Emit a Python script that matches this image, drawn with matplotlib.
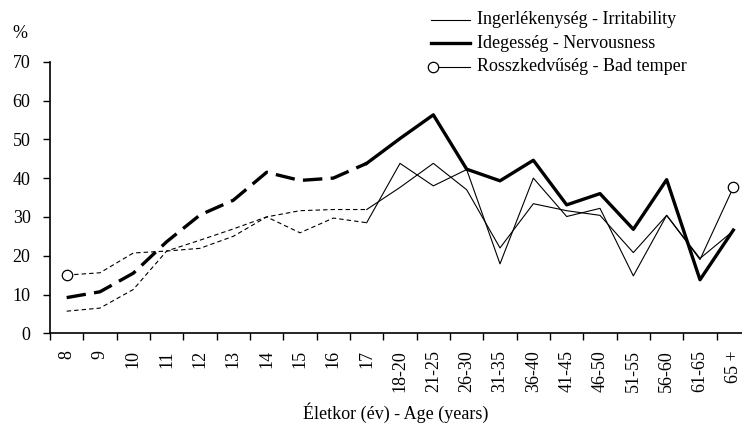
import matplotlib.pyplot as plt
from matplotlib.lines import Line2D

plt.rcParams['font.family'] = ['Liberation Serif', 'DejaVu Serif']
plt.rcParams['lines.scale_dashes'] = False

# Age groups
ages = ["8", "9", "10", "11", "12", "13", "14", "15", "16", "17",
        "18-20", "21-25", "26-30", "31-35", "36-40", "41-45", "46-50",
        "51-55", "56-60", "61-65", "65 +"]

# Values in percent
irritability = [5.7, 6.5, 11.3, 21.2, 24.0, 26.9, 30.0, 25.9, 29.7, 28.5,
                43.8, 38.0, 42.2, 17.9, 40.0, 30.1, 32.2, 14.8, 30.4, 19.3, 26.4]
nervousness = [9.2, 10.7, 15.5, 23.6, 30.5, 34.3, 41.5, 39.4, 40.0, 43.8,
               50.2, 56.3, 42.3, 39.3, 44.6, 33.1, 36.0, 26.8, 39.6, 13.8, 26.6]
bad_temper = [15.0, 15.6, 20.7, 21.2, 21.9, 25.0, 30.0, 31.6, 31.9, 31.9,
              37.6, 43.8, 37.0, 22.0, 33.4, 31.6, 30.4, 20.8, 30.4, 19.0, 37.6]

labels = ["Ingerlékenység - Irritability", "Idegesség - Nervousness",
          "Rosszkedvűség - Bad temper"]

split = 9  # children (dashed) up to 17, adults (solid) after
W, H = 742, 432
fs = 13

fig = plt.figure(figsize=(W / 100, H / 100), dpi=100)
ax = fig.add_axes([50 / W, 1 - 333.3 / H, 1 - 50 / W, (333.3 - 61.7) / H])

x = list(range(len(ages)))
xa, xb = x[:split + 1], x[split:]

series = [
    (irritability, 0.8, (3.2, 2.2)),
    (nervousness, 2.4, (14, 6)),
    (bad_temper, 0.8, (3.2, 2.2)),
]
for vals, lw, dash in series:
    ax.plot(xa, vals[:split + 1], color="black", lw=lw, dashes=dash)
    ax.plot(xb, vals[split:], color="black", lw=lw)

# open circles at the ends of bad temper
ax.plot([x[0], x[-1]], [bad_temper[0], bad_temper[-1]], "o", ms=7.5,
        mfc="white", mec="black", mew=0.9, clip_on=False, zorder=5)

ax.set_ylim(0, 70)
ax.set_xlim(-0.5, 20.26)
ax.set_yticks(range(0, 71, 10))
ax.set_xticks(x)
ax.set_xticklabels(ages, rotation=90)
ax.set_xticks([i - 0.5 for i in range(len(ages))], minor=True)
ax.tick_params(axis="x", which="major", length=0, pad=12, labelsize=fs)
ax.tick_params(axis="x", which="minor", length=5, width=1, direction="out")
ax.tick_params(axis="y", length=5, width=1, pad=9, labelsize=fs)

for s in ["top", "right"]:
    ax.spines[s].set_visible(False)
ax.spines["left"].set_linewidth(1.2)
ax.spines["bottom"].set_linewidth(1.2)

fig.text(396 / W, 1 - 413 / H, "Életkor (év) - Age (years)", fontsize=fs,
         ha="center", va="center")
fig.text(12 / W, 1 - 33 / H, "%", fontsize=fs, va="center")

# legend drawn by hand (circle only on the left end)
rows_y = [20, 43.3, 66.7]
widths = [0.8, 2.4, 0.8]
for i, (yy, lw) in enumerate(zip(rows_y, widths)):
    yf = 1 - yy / H
    fig.add_artist(Line2D([431 / W, 470 / W], [yf, yf], color="black", lw=lw,
                          transform=fig.transFigure))
    if i == 2:
        fig.add_artist(Line2D([433 / W], [yf], marker="o", ms=7.5, mfc="white",
                              mec="black", mew=0.9, transform=fig.transFigure))
    fig.text(477 / W, yf, labels[i], fontsize=fs, va="center")

fig.savefig("out.png", dpi=100)
